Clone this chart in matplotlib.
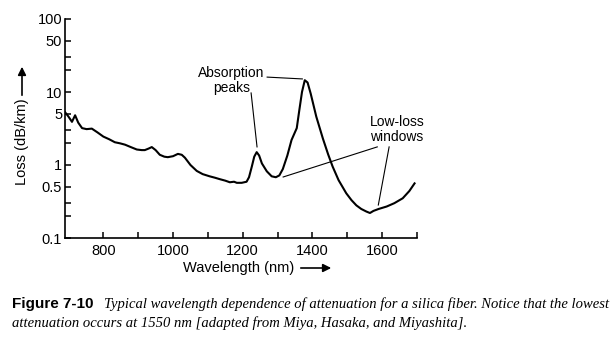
import numpy as np
import matplotlib.pyplot as plt
from matplotlib.ticker import FixedLocator, NullFormatter

# Attenuation curve of a silica fibre (wavelength in nm, loss in dB/km)
wavelength = [690, 700, 710, 719, 728, 739, 752, 767, 783, 800, 817, 833, 848,
              862, 880, 896, 910, 919, 930, 939, 950, 962, 975, 985, 1000,
              1014, 1025, 1034, 1050, 1068, 1085, 1105, 1120, 1134, 1150,
              1163, 1175, 1183, 1197, 1211, 1218, 1226, 1233, 1240, 1247,
              1255, 1269, 1283, 1295, 1305, 1315, 1328, 1340, 1355, 1362,
              1370, 1378, 1386, 1395, 1411, 1430, 1445, 1458, 1475, 1497,
              1512, 1526, 1540, 1555, 1565, 1575, 1590, 1613, 1635, 1659,
              1678, 1693]
loss = [5.3, 4.6, 3.9, 4.8, 3.8, 3.2, 3.1, 3.15, 2.8, 2.45, 2.25, 2.05, 1.98,
        1.9, 1.75, 1.63, 1.6, 1.6, 1.68, 1.76, 1.6, 1.38, 1.3, 1.28, 1.32,
        1.42, 1.38, 1.26, 1.0, 0.83, 0.75, 0.70, 0.67, 0.64, 0.61,
        0.58, 0.59, 0.57, 0.57, 0.59, 0.68, 0.95, 1.3, 1.5, 1.35,
        1.05, 0.82, 0.70, 0.68, 0.72, 0.88, 1.35, 2.2, 3.2, 5.5,
        10.0, 14.5, 13.5, 9.5, 4.6, 2.3, 1.4, 0.95, 0.62, 0.41,
        0.33, 0.28, 0.25, 0.23, 0.22, 0.235, 0.25, 0.27, 0.30, 0.35,
        0.44, 0.56]

x_major = [800, 1000, 1200, 1400, 1600]
x_minor = [900, 1100, 1300, 1500, 1700]
y_labelled = [0.1, 0.5, 1, 5, 10, 50, 100]
y_labels = ['0.1', '0.5', '1', '5', '10', '50', '100']
y_minor = [0.2, 0.3, 2, 3, 20, 30]

plt.rcParams['font.family'] = ['Liberation Sans', 'DejaVu Sans']

W, H = 614, 339
fig = plt.figure(figsize=(W / 100, H / 100), dpi=100)
ax = fig.add_axes([65 / W, 1 - 238 / H, (417 - 65) / W, (238 - 19) / H])

ax.plot(wavelength, loss, color='black', lw=1.5, solid_joinstyle='round')

ax.set_yscale('log')
ax.set_xlim(690, 1700)
ax.set_ylim(0.1, 100)
for side in ('top', 'right'):
    ax.spines[side].set_visible(False)
for side in ('left', 'bottom'):
    ax.spines[side].set_linewidth(1.2)

ax.xaxis.set_major_locator(FixedLocator(x_major))
ax.xaxis.set_minor_locator(FixedLocator(x_minor))
ax.yaxis.set_major_locator(FixedLocator(y_labelled))
ax.yaxis.set_minor_locator(FixedLocator(y_minor))
ax.set_yticklabels(y_labels)
ax.yaxis.set_minor_formatter(NullFormatter())
ax.tick_params(which='both', direction='in', length=4, width=1.1,
               labelsize=10.5, pad=2)
ax.tick_params(axis='x', pad=4)

# axis titles with their arrows
fig.text(22 / W, 1 - 142 / H, 'Loss (dB/km)', rotation=90, fontsize=10.5,
         ha='center', va='center')
fig.add_artist(plt.Annotation('', xy=(22 / W, 1 - 64 / H),
                              xytext=(22 / W, 1 - 98 / H),
                              xycoords='figure fraction',
                              arrowprops=dict(arrowstyle='-|>', color='black',
                                              lw=1.2, mutation_scale=12)))
fig.text(239 / W, 1 - 268 / H, 'Wavelength (nm)', fontsize=10.5,
         ha='center', va='center')
fig.add_artist(plt.Annotation('', xy=(334 / W, 1 - 268 / H),
                              xytext=(298 / W, 1 - 268 / H),
                              xycoords='figure fraction',
                              arrowprops=dict(arrowstyle='-|>', color='black',
                                              lw=1.2, mutation_scale=12)))

# callouts
ax.text(1167, 14.5, 'Absorption\npeaks', ha='center', va='center',
        fontsize=10, linespacing=1.1)
ax.plot([1270, 1371], [16.0, 15.1], color='black', lw=0.8)
ax.plot([1224, 1241], [9.7, 1.77], color='black', lw=0.8)

ax.text(1643, 3.1, 'Low-loss\nwindows', ha='center', va='center',
        fontsize=10, linespacing=1.1)
ax.plot([1586, 1316], [1.77, 0.685], color='black', lw=0.8)
ax.plot([1620, 1589], [1.77, 0.283], color='black', lw=0.8)

# caption below the chart
fig.text(12 / W, 1 - 304 / H, 'Figure 7-10', fontsize=11, fontweight='bold',
         va='center', family='Liberation Sans')
fig.text(104 / W, 1 - 304 / H,
         'Typical wavelength dependence of attenuation for a silica fiber. '
         'Notice that the lowest',
         fontsize=10.5, style='italic', va='center', family='Liberation Serif')
fig.text(12 / W, 1 - 323 / H,
         'attenuation occurs at 1550 nm [adapted from Miya, Hasaka, and Miyashita].',
         fontsize=10.5, style='italic', va='center', family='Liberation Serif')

fig.savefig('out.png', dpi=100)
